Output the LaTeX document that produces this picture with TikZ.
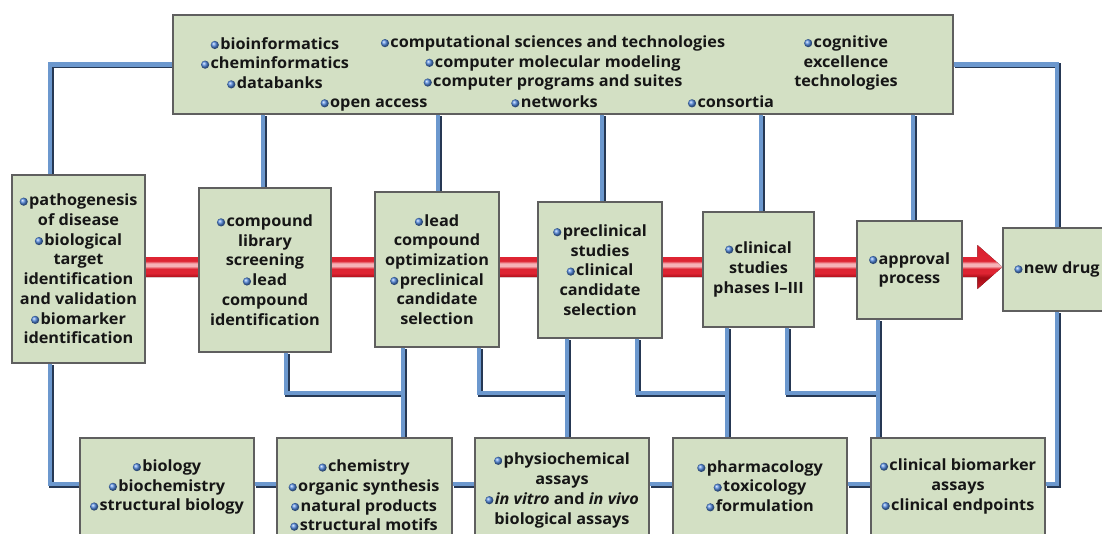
\documentclass[tikz,border=0pt]{standalone}
\usepackage{fontspec}
\setmainfont{Open Sans}[FakeStretch=1.05]
\usetikzlibrary{calc}
\definecolor{boxfill}{RGB}{211,224,196}
\definecolor{boxline}{RGB}{95,95,95}
\definecolor{linkblue}{RGB}{108,152,206}
\definecolor{linkdark}{RGB}{38,56,84}
\definecolor{txtcol}{RGB}{22,22,22}
\definecolor{bulblue}{RGB}{80,135,220}
\definecolor{rdark}{RGB}{165,12,22}
\definecolor{rmain}{RGB}{222,36,50}
\definecolor{rlight}{RGB}{246,178,183}
\pgfdeclarelayer{bg}
\pgfsetlayers{bg,main}
\pgfdeclareverticalshading{redbar}{100bp}{color(0bp)=(rdark); color(25bp)=(rmain!70!rdark); color(38bp)=(rdark); color(43bp)=(rmain); color(48bp)=(rmain); color(51bp)=(rlight); color(54bp)=(rlight); color(57bp)=(rmain); color(61bp)=(rmain); color(75bp)=(rmain!85!rdark); color(100bp)=(rmain!85!rdark)}
\newcommand\bul{\tikz[baseline=0pt]\shade[ball color=bulblue] (0pt,4.2pt) circle (4.1pt);\hspace{1.4pt}}
\tikzset{
  box/.style={draw=boxline, line width=1.2pt, fill=boxfill, inner sep=0pt, align=center,
    text=txtcol, font=\fontsize{15.5}{19.7}\selectfont\bfseries},
  txt/.style={inner sep=0pt, align=center, text=txtcol, font=\fontsize{15.5}{19.7}\selectfont\bfseries},
  link/.style={draw=linkblue, line width=4.9pt, line join=miter,
    preaction={draw=linkdark, line width=4.9pt, transform canvas={shift={(1.4pt,-1.4pt)}}}}
}
\begin{document}
\begin{tikzpicture}[x=1pt,y=-1pt]
\useasboundingbox (0,0) rectangle (1102,533);
\clip (0,0) rectangle (1102,533);
% main boxes
\node[box, minimum width=780, minimum height=99] (top) at (563,64.5) {};
\node[box, minimum width=133, minimum height=188] (b1) at (78.5,269)
  {\bul pathogenesis\\of disease\\\bul biological\\target\\identification\\and validation\\\bul biomarker\\identification};
\node[box, minimum width=132, minimum height=164] (b2) at (265,270)
  {\bul compound\\library\\screening\\\bul lead\\compound\\identification};
\node[box, minimum width=124, minimum height=155] (b3) at (437,269.5)
  {\bul lead\\compound\\optimization\\\bul preclinical\\candidate\\selection};
\node[box, minimum width=124, minimum height=136] (b4) at (600,270)
  {\bul preclinical\\studies\\\bul clinical\\candidate\\selection};
\node[box, minimum width=111, minimum height=115] (b5) at (758.5,269.5)
  {\bul clinical\\studies\\phases I--III};
\node[box, minimum width=105, minimum height=98] (b6) at (909.5,270)
  {\bul approval\\process};
\node[box, minimum width=108, minimum height=83] (b7) at (1057,269.5)
  {\bul new drug};
% bottom boxes
\node[box, minimum width=174, minimum height=102] (c1) at (167,489) {};
\node[box, minimum width=175, minimum height=102] (c2) at (364.5,489) {};
\node[box, minimum width=174, minimum height=102] (c3) at (562,489) {};
\node[box, minimum width=174, minimum height=102] (c4) at (760,489) {};
\node[box, minimum width=174, minimum height=102] (c5) at (958,489) {};
% top texts
\node[txt] (t1) at (275,63) {\bul bioinformatics\\\bul cheminformatics\\\bul databanks};
\node[txt, anchor=base] (t2) at (374,107.5) {\bul open access};
\node[txt] (t3) at (553,63) {\bul computational sciences and technologies\\\bul computer molecular modeling\\\bul computer programs and suites};
\node[txt, anchor=base] (t4) at (554.5,107.5) {\bul networks};
\node[txt, anchor=base] (t5) at (731,107.5) {\bul consortia};
\node[txt] (t6) at (846,63) {\bul cognitive\\excellence\\technologies};
% bottom texts
\node[txt] (ct1) at (167,487) {\bul biology\\\bul biochemistry\\\bul structural biology};
\node[txt] (ct2) at (364,495.5) {\bul chemistry\\\bul organic synthesis\\\bul natural products\\\bul structural motifs};
\node[txt] (ct3) at (562,490.5) {\bul physiochemical\\assays\\\bul \textit{in vitro} and \textit{in vivo}\\biological assays};
\node[txt] (ct4) at (760,486) {\bul pharmacology\\\bul toxicology\\\bul formulation};
\node[txt] (ct5) at (958,486.5) {\bul clinical biomarker\\assays\\\bul clinical endpoints};
% background: arrow and links
\begin{pgfonlayer}{bg}
\coordinate (as) at (b1.east |- 0,267);
\coordinate (tip) at (b7.west |- 0,267);
\begin{scope}[shift={(1.5,3.5)}]
\fill[black!90] ($(as)+(0,-10)$) -- ($(tip)+(-25,-10)$) -- ($(tip)+(-25,-22)$) -- (tip)
  -- ($(tip)+(-25,22)$) -- ($(tip)+(-25,10)$) -- ($(as)+(0,10)$) -- cycle;
\end{scope}
\shade[shading=redbar] ($(as)+(0,-10)$) -- ($(tip)+(-25,-10)$) -- ($(tip)+(-25,-22)$) -- (tip)
  -- ($(tip)+(-25,22)$) -- ($(tip)+(-25,10)$) -- ($(as)+(0,10)$) -- cycle;
% links
\draw[link] (top.west) -| ([xshift=-28.5]b1.north);
\draw[link] (top.east) -| (b7.north);
\draw[link] (263,0 |- top.south) -- (263,0 |- b2.north);
\draw[link] (438,0 |- top.south) -- (438,0 |- b3.north);
\draw[link] (602,0 |- top.south) -- (602,0 |- b4.north);
\draw[link] (761,0 |- top.south) -- (761,0 |- b5.north);
\draw[link] (913,0 |- top.south) -- (913,0 |- b6.north);
\draw[link] ([xshift=-28.5]b1.south) |- (c1.west |- 0,484);
\draw[link] (b7.south) |- (c5.east |- 0,484);
\draw[link] (c1.east |- 0,484) -- (c2.west |- 0,484);
\draw[link] (c2.east |- 0,484) -- (c3.west |- 0,484);
\draw[link] (c3.east |- 0,484) -- (c4.west |- 0,484);
\draw[link] (c4.east |- 0,484) -- (c5.west |- 0,484);
\coordinate (j1) at (403,393);
\coordinate (j2) at (567,393);
\coordinate (j3) at (727,393);
\coordinate (j4) at (878,393);
\draw[link] (286,0 |- b2.south) |- (j1);
\draw[link] (479,0 |- b3.south) |- (j2);
\draw[link] (637,0 |- b4.south) |- (j3);
\draw[link] (787,0 |- b5.south) |- (j4);
\draw[link] (403,0 |- b3.south) -- (403,0 |- c2.north);
\draw[link] (567,0 |- b4.south) -- (567,0 |- c3.north);
\draw[link] (727,0 |- b5.south) -- (727,0 |- c4.north);
\draw[link] (878,0 |- b6.south) -- (878,0 |- c5.north);
\end{pgfonlayer}
\end{tikzpicture}
\end{document}
